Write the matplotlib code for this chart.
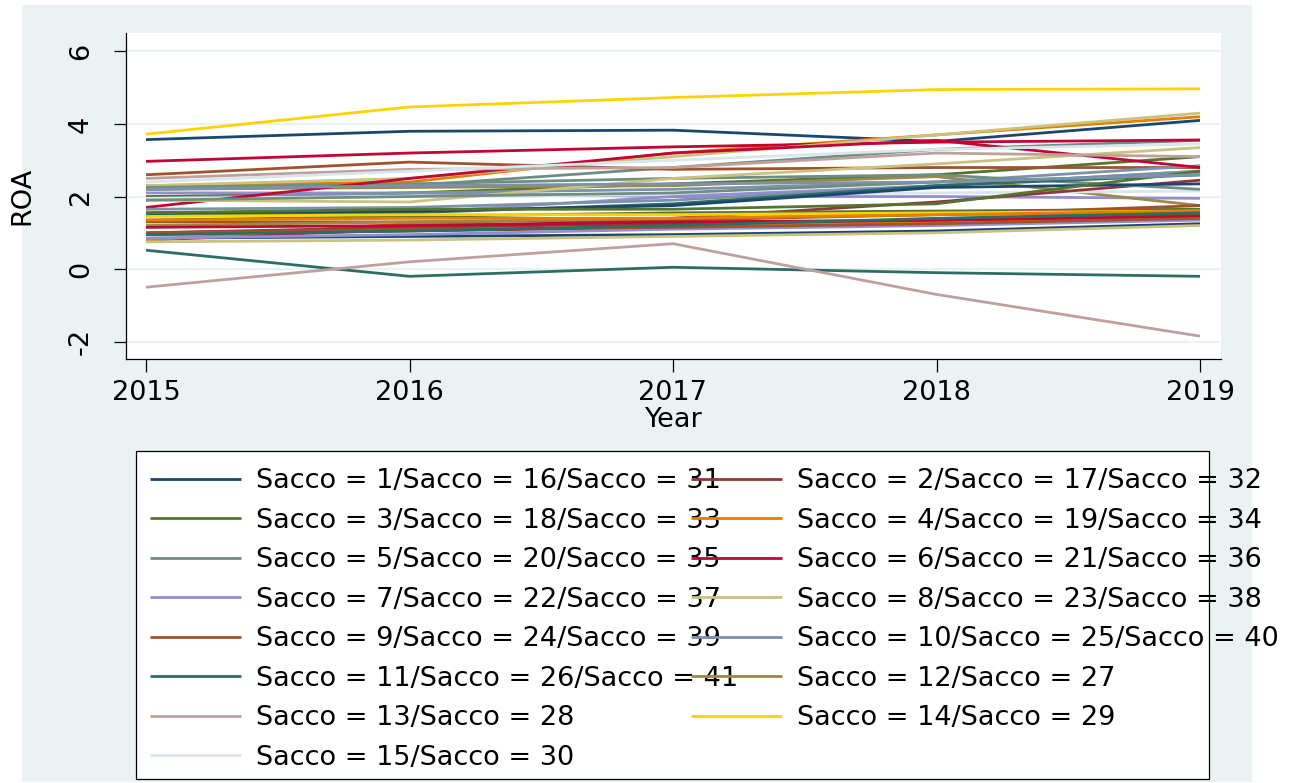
import matplotlib
matplotlib.use("Agg")
import matplotlib.pyplot as plt
from matplotlib.patches import Rectangle

years = [2015, 2016, 2017, 2018, 2019]

# ROA by sacco, 2015-2019
roa = {
    1: [3.57, 3.80, 3.83, 3.52, 4.10],
    2: [0.95, 1.05, 1.15, 1.35, 1.45],
    3: [2.00, 2.10, 2.35, 2.60, 3.10],
    4: [2.30, 2.40, 3.20, 3.70, 4.20],
    5: [2.20, 2.30, 2.80, 3.30, 3.55],
    6: [2.97, 3.20, 3.37, 3.50, 3.56],
    7: [2.10, 2.10, 2.00, 2.00, 1.95],
    8: [2.30, 2.50, 3.10, 3.70, 4.30],
    9: [2.60, 2.95, 2.75, 2.80, 2.80],
    10: [1.95, 2.10, 2.20, 2.40, 2.85],
    11: [0.52, -0.20, 0.05, -0.10, -0.20],
    12: [2.20, 2.25, 2.30, 2.55, 1.75],
    13: [-0.50, 0.20, 0.70, -0.70, -1.85],
    14: [3.72, 4.47, 4.73, 4.95, 4.97],
    15: [1.95, 2.00, 2.05, 2.10, 2.15],
    16: [0.85, 0.90, 0.95, 1.05, 1.25],
    17: [0.80, 1.10, 1.40, 1.85, 2.45],
    18: [1.35, 1.45, 1.55, 1.60, 1.65],
    19: [0.80, 1.25, 1.20, 1.30, 1.45],
    20: [2.25, 2.35, 2.50, 2.60, 2.20],
    21: [1.70, 2.50, 3.20, 3.55, 2.80],
    22: [1.50, 1.55, 2.00, 2.30, 2.70],
    23: [1.90, 1.85, 2.50, 2.90, 3.35],
    24: [1.30, 1.30, 1.35, 1.50, 1.75],
    25: [1.65, 1.70, 1.90, 2.30, 2.70],
    26: [1.50, 1.55, 1.80, 2.30, 2.60],
    27: [1.20, 1.30, 1.40, 1.50, 1.55],
    28: [2.50, 2.75, 2.80, 3.20, 3.10],
    29: [1.45, 1.50, 1.50, 1.55, 1.60],
    30: [2.40, 2.70, 3.00, 3.30, 3.45],
    31: [1.55, 1.60, 1.75, 2.25, 2.35],
    32: [1.00, 1.15, 1.25, 1.35, 1.50],
    33: [1.55, 1.65, 1.65, 1.80, 2.70],
    34: [1.35, 1.40, 1.40, 1.50, 1.60],
    35: [1.90, 2.00, 2.10, 2.40, 2.60],
    36: [1.15, 1.20, 1.30, 1.35, 1.45],
    37: [0.85, 0.95, 1.10, 1.20, 1.35],
    38: [0.75, 0.80, 0.90, 1.00, 1.20],
    39: [1.00, 1.10, 1.15, 1.25, 1.40],
    40: [2.20, 2.30, 2.35, 2.40, 2.60],
    41: [0.95, 1.05, 1.20, 1.40, 1.55],
}

# stata s2color line palette, cycled over saccos
palette = ["#1a476f", "#90353b", "#55752f", "#e37e00", "#6e8e84",
           "#c10534", "#938dd2", "#cac27e", "#a0522d", "#7b92a8",
           "#2d6d66", "#9c8847", "#bfa19c", "#ffd200", "#d9e6eb"]

bg = "#eaf2f3"
fs = 19.5

W, H = 1297, 783
fig = plt.figure(figsize=(W / 100, H / 100), dpi=100)
fig.patch.set_facecolor("white")
fig.add_artist(Rectangle((22 / W, 1 / H), 1230 / W, 777 / H, transform=fig.transFigure,
                         facecolor=bg, edgecolor="none", zorder=-1))

ax = fig.add_axes([126 / W, 1 - 359 / H, 1095 / W, 326 / H])
ax.set_facecolor("white")

lines = {}
for s in sorted(roa):
    ln, = ax.plot(years, roa[s], color=palette[(s - 1) % 15], lw=2.0,
                  solid_capstyle="butt")
    lines[s] = ln

ax.set_xlim(2015 - 20 / 263.5, 2019 + 21 / 263.5)
ax.set_ylim(-2.48, 6.51)
ax.set_xticks(years)
ax.set_yticks([-2, 0, 2, 4, 6])
ax.set_yticklabels(["-2", "0", "2", "4", "6"], rotation=90, va="center")
ax.grid(axis="y", color=bg, lw=1.6)
ax.set_axisbelow(True)
for side in ["top", "right"]:
    ax.spines[side].set_visible(False)
for side in ["left", "bottom"]:
    ax.spines[side].set_linewidth(0.9)
ax.tick_params(axis="both", labelsize=fs, length=9, width=0.9)
ax.tick_params(axis="y", pad=14)
ax.tick_params(axis="x", pad=6)

ax.set_xlabel("Year", fontsize=fs)
ax.xaxis.label.set_va("center")
ax.xaxis.set_label_coords(0.5, -0.187)
ax.set_ylabel("ROA", fontsize=fs)
ax.yaxis.label.set_va("center")
ax.yaxis.set_label_coords(-0.095, 0.5)

# legend: one entry per colour, Stata fills rows, matplotlib fills columns
labels = []
for k in range(15):
    ids = [k + 1 + 15 * j for j in range(3) if k + 1 + 15 * j <= 41]
    labels.append("/".join("Sacco = %d" % i for i in ids))
order = list(range(0, 15, 2)) + list(range(1, 15, 2))
handles = [lines[k + 1] for k in order]
fig.add_artist(Rectangle((136 / W, 1 - 779 / H), 1073 / W, 328 / H,
                         transform=fig.transFigure, facecolor="white",
                         edgecolor="black", lw=0.9, zorder=1))
fig.legend(handles, [labels[k] for k in order], ncol=2, loc="upper left",
           bbox_to_anchor=(150 / W, 1 - 468 / H), bbox_transform=fig.transFigure,
           frameon=False, fontsize=fs, borderpad=0, borderaxespad=0,
           handlelength=3.36, handletextpad=0.55, labelspacing=0.50,
           columnspacing=-1.72)

fig.savefig("out.png", dpi=100)
